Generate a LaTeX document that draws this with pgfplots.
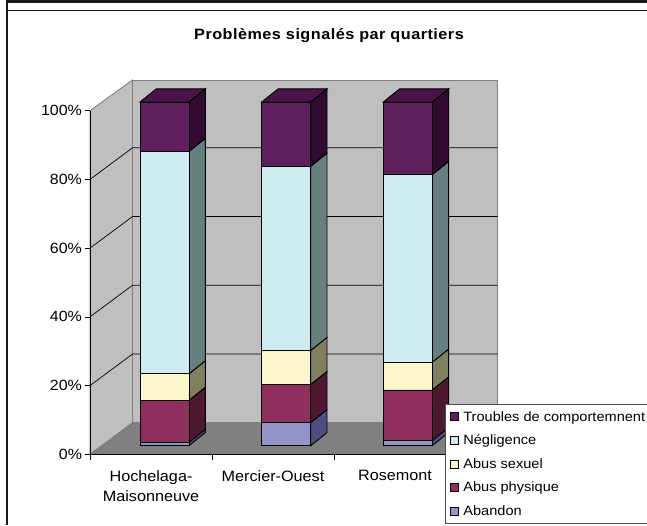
\documentclass[border=0pt]{standalone}
\usepackage{pgfplots}
\pgfplotsset{compat=1.18}
\usepackage{fontspec}
\setmainfont{Liberation Sans}[FakeStretch=1.08]
\definecolor{cAb}{HTML}{9494C8}
\definecolor{cPh}{HTML}{8F2F5E}
\definecolor{cSx}{HTML}{FBF7CA}
\definecolor{cNg}{HTML}{CEEBF0}
\definecolor{cTr}{HTML}{5F1F5F}
\definecolor{sAb}{HTML}{4D4D80}
\definecolor{sPh}{HTML}{4E1831}
\definecolor{sSx}{HTML}{808060}
\definecolor{sNg}{HTML}{668080}
\definecolor{sTr}{HTML}{300A30}
\definecolor{tTr}{HTML}{4A1448}
\pgfplotsset{
  canvas/.style={
    at={(0pt,0pt)},anchor=south west,scale only axis,width=647pt,height=525pt,
    xmin=0,xmax=647,ymin=-23.1,ymax=129.68,
    clip=false,
  },
}
\begin{document}
\begin{tikzpicture}[x=1pt,y=1pt]
\useasboundingbox (0,0) rectangle (647,525);
\fill[white] (0,0) rectangle (647,525);

% walls, floor, grid and the receding faces of the bars
\begin{axis}[canvas,axis lines=none]
  \addplot[fill=black!25,draw=black!50,line width=0.9pt] coordinates {(90,-2.53)(132.5,6.66)(132.5,106.4)(90,97.47)} -- cycle;
  \addplot[fill=black!25,draw=black!50,line width=0.9pt] coordinates {(132.5,6.66)(497.7,6.66)(497.7,106.4)(132.5,106.4)} -- cycle;
  \addplot[fill=black!50,draw=black!50,line width=0.5pt] coordinates {(90,-2.53)(132.5,6.66)(497.7,6.66)(456,-2.53)} -- cycle;
  \addplot[black,line width=0.7pt] coordinates {(90,17.47)(132.5,26.66)(497.7,26.66)};
  \addplot[black,line width=0.7pt] coordinates {(90,37.47)(132.5,46.66)(497.7,46.66)};
  \addplot[black,line width=0.7pt] coordinates {(90,57.47)(132.5,66.66)(497.7,66.66)};
  \addplot[black,line width=0.7pt] coordinates {(90,77.47)(132.5,86.66)(497.7,86.66)};
  % Hochelaga-Maisonneuve
  \addplot[fill=sAb,draw=black,line width=0.9pt] coordinates {(189,0)(205.3,3.8)(205.3,4.76)(189,0.96)} -- cycle;
  \addplot[fill=sPh,draw=black,line width=0.9pt] coordinates {(189,0.96)(205.3,4.76)(205.3,17.0)(189,13.2)} -- cycle;
  \addplot[fill=sSx,draw=black,line width=0.9pt] coordinates {(189,13.2)(205.3,17.0)(205.3,24.7)(189,20.9)} -- cycle;
  \addplot[fill=sNg,draw=black,line width=0.9pt] coordinates {(189,20.9)(205.3,24.7)(205.3,89.4)(189,85.6)} -- cycle;
  \addplot[fill=sTr,draw=black,line width=0.9pt] coordinates {(189,85.6)(205.3,89.4)(205.3,103.8)(189,100)} -- cycle;
  \addplot[fill=tTr,draw=black,line width=0.9pt] coordinates {(140,100)(189,100)(205.3,103.8)(156.3,103.8)} -- cycle;
  % Mercier-Ouest
  \addplot[fill=sAb,draw=black,line width=0.9pt] coordinates {(310.7,0)(327,3.8)(327,10.5)(310.7,6.7)} -- cycle;
  \addplot[fill=sPh,draw=black,line width=0.9pt] coordinates {(310.7,6.7)(327,10.5)(327,21.6)(310.7,17.8)} -- cycle;
  \addplot[fill=sSx,draw=black,line width=0.9pt] coordinates {(310.7,17.8)(327,21.6)(327,31.5)(310.7,27.7)} -- cycle;
  \addplot[fill=sNg,draw=black,line width=0.9pt] coordinates {(310.7,27.7)(327,31.5)(327,85.1)(310.7,81.3)} -- cycle;
  \addplot[fill=sTr,draw=black,line width=0.9pt] coordinates {(310.7,81.3)(327,85.1)(327,103.8)(310.7,100)} -- cycle;
  \addplot[fill=tTr,draw=black,line width=0.9pt] coordinates {(261.7,100)(310.7,100)(327,103.8)(278,103.8)} -- cycle;
  % Rosemont
  \addplot[fill=sAb,draw=black,line width=0.9pt] coordinates {(432.3,0)(448.6,3.8)(448.6,5.3)(432.3,1.5)} -- cycle;
  \addplot[fill=sPh,draw=black,line width=0.9pt] coordinates {(432.3,1.5)(448.6,5.3)(448.6,20.0)(432.3,16.2)} -- cycle;
  \addplot[fill=sSx,draw=black,line width=0.9pt] coordinates {(432.3,16.2)(448.6,20.0)(448.6,28.1)(432.3,24.3)} -- cycle;
  \addplot[fill=sNg,draw=black,line width=0.9pt] coordinates {(432.3,24.3)(448.6,28.1)(448.6,82.7)(432.3,78.9)} -- cycle;
  \addplot[fill=sTr,draw=black,line width=0.9pt] coordinates {(432.3,78.9)(448.6,82.7)(448.6,103.8)(432.3,100)} -- cycle;
  \addplot[fill=tTr,draw=black,line width=0.9pt] coordinates {(383.3,100)(432.3,100)(448.6,103.8)(399.6,103.8)} -- cycle;
\end{axis}

% percentage scale and district names
\begin{axis}[
  at={(90pt,70.7pt)},anchor=south west,scale only axis,width=366pt,height=343.6pt,
  xmin=0,xmax=3,ymin=0,ymax=100,
  axis x line=bottom,axis y line=left,
  axis line style={-,line width=0.8pt},
  ytick={0,20,40,60,80,100},
  yticklabel={\pgfmathprintnumber[assume math mode=true]{\tick}\%},
  y tick label style={font=\fontsize{14.8}{14.8}\selectfont,xshift=0.5pt},
  xtick={0.5,1.5,2.5},
  xticklabels={{Hochelaga-\\Maisonneuve},Mercier-Ouest,Rosemont},
  x tick label style={font=\fontsize{15}{20}\selectfont,align=center,anchor=north,yshift=-7.5pt},
  minor xtick={0,1,2,3},
  major x tick style={draw=none},
  minor x tick style={line width=0.7pt,black},
  y tick style={line width=0.7pt,black},
  tick align=outside,
  minor tick length=5.5pt,major tick length=5pt,
]
\end{axis}

% front faces of the stacked bars
\begin{axis}[canvas,axis lines=none,
  ybar stacked,bar width=49pt,
  reverse legend,
  legend cell align=left,
  legend style={at={(axis cs:445.3,12)},anchor=north west,
    draw=black!70,line width=0.7pt,fill=white,
    font=\fontsize{13.5}{13.5}\selectfont,
    row sep=8.25pt,inner xsep=4pt,inner ysep=4.5pt,
    /tikz/every odd column/.append style={column sep=3pt}},
  area legend,
  legend image code/.code={\draw[#1,line width=0.7pt,fill] (0pt,-3.8pt) rectangle (8pt,4.2pt);},
]
  \addplot[fill=cAb,draw=black,line width=0.9pt] coordinates {(164.5,0.96)(286.2,6.7)(407.8,1.5)};
  \addplot[fill=cPh,draw=black,line width=0.9pt] coordinates {(164.5,12.24)(286.2,11.1)(407.8,14.7)};
  \addplot[fill=cSx,draw=black,line width=0.9pt] coordinates {(164.5,7.7)(286.2,9.9)(407.8,8.1)};
  \addplot[fill=cNg,draw=black,line width=0.9pt] coordinates {(164.5,64.7)(286.2,53.6)(407.8,54.6)};
  \addplot[fill=cTr,draw=black,line width=0.9pt] coordinates {(164.5,14.4)(286.2,18.7)(407.8,21.1)};
  \legend{Abandon,Abus physique,Abus sexuel,Négligence,Troubles de comportemnent}
\end{axis}

% title and frames
\node[font=\fontsize{15}{15}\selectfont\bfseries\addfontfeatures{LetterSpace=3.3},anchor=center] at (329,489) {Problèmes signalés par quartiers};
\draw[black!90,line width=1.6pt] (7,526) -- (7,0);
\draw[black!90,line width=1.2pt] (7,514.8) -- (648,514.8);
\draw[black!90,line width=2.6pt] (7,523.5) -- (648,523.5);
\end{tikzpicture}
\end{document}
